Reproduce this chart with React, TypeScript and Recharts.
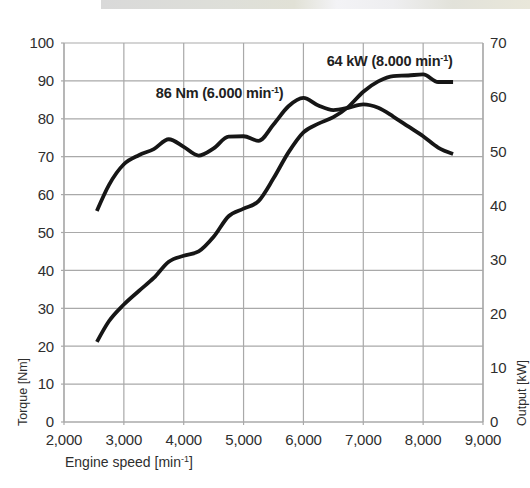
import React from "react";
import {
  LineChart,
  Line,
  XAxis,
  YAxis,
  CartesianGrid,
  ReferenceDot,
} from "recharts";

// engine speed samples (min^-1)
const rpm = [
  2550, 2750, 3000, 3250, 3500, 3750, 4000, 4250, 4500, 4750, 5000, 5250, 5500,
  5750, 6000, 6250, 6500, 6750, 7000, 7250, 7500, 7750, 8000, 8250, 8500,
];
// torque in Nm
const torqueNm = [
  55.7, 62.5, 68.0, 70.4, 72.0, 74.6, 72.6, 70.3, 72.2, 75.3, 75.4, 74.2, 78.5,
  83.3, 85.5, 83.5, 82.3, 82.9, 83.8, 82.9, 80.6, 78.0, 75.4, 72.4, 70.7,
];
// output in kW
const outputKw = [
  14.8, 18.6, 21.7, 24.2, 26.6, 29.6, 30.7, 31.5, 34.2, 38.0, 39.4, 40.8, 45.0,
  49.8, 53.5, 55.1, 56.3, 58.2, 61.0, 62.9, 63.9, 64.0, 64.2, 62.8, 62.8,
];

const speedTicks = [2000, 3000, 4000, 5000, 6000, 7000, 8000, 9000];
const torqueTicks = [0, 10, 20, 30, 40, 50, 60, 70, 80, 90, 100];
const outputTicks = [0, 10, 20, 30, 40, 50, 60, 70];

const data = rpm.map((r, i) => ({
  rpm: r,
  torque: torqueNm[i],
  output: outputKw[i],
}));

const FONT = "'Liberation Sans', Arial, Helvetica, sans-serif";
const GRID = "#a9a9a9";
const INK = "#161616";
const TEXT = "#2e2e2e";
const TICK = { fill: TEXT, fontSize: 15, fontFamily: FONT, letterSpacing: -0.2 };

function Annotation({ viewBox, text }: { viewBox?: any; text: string }) {
  if (!viewBox) return null;
  return (
    <text
      x={viewBox.x}
      y={viewBox.y}
      textAnchor="middle"
      fontFamily={FONT}
      fontWeight="bold"
      fontSize={14.5}
      letterSpacing={-0.2}
      fill="#222"
    >
      {text}
      <tspan fontSize={9} dy={-5}>
        -1
      </tspan>
      <tspan dy={5}>)</tspan>
    </text>
  );
}

export default function App() {
  return (
    <div
      style={{
        position: "absolute",
        left: 0,
        top: 0,
        width: 530,
        height: 488,
        background: "#fff",
      }}
    >
      <div
        style={{
          position: "absolute",
          left: 101,
          top: 0,
          width: 429,
          height: 9,
          background:
            "linear-gradient(to right, #d9d9d9 0%, #dedfd9 30%, #e1e1d6 45%, #f3f3f6 55%, #eeeef0 68%, #e2e2da 82%, #e9e7da 100%)",
        }}
      />
      <LineChart
        width={530}
        height={488}
        data={data}
        margin={{ top: 43, right: 0, bottom: 0, left: 0 }}
        style={{ position: "absolute", left: 0, top: 0 }}
      >
        <CartesianGrid stroke={GRID} strokeWidth={1.2} yAxisId="t" />
        <XAxis
          dataKey="rpm"
          type="number"
          domain={[2000, 9000]}
          ticks={speedTicks}
          height={66}
          tick={TICK}
          tickFormatter={(v: number) => v.toLocaleString("en-US")}
          axisLine={{ stroke: GRID, strokeWidth: 1.2 }}
          tickLine={{ stroke: GRID, strokeWidth: 1.2 }}
          tickSize={3}
          tickMargin={9}
          label={{
            content: () => (
              <text x={65} y={467} fontFamily={FONT} fontSize={14} fill={TEXT}>
                Engine speed [min
                <tspan fontSize={9} dy={-5}>
                  -1
                </tspan>
                <tspan dy={5}>]</tspan>
              </text>
            ),
          }}
        />
        <YAxis
          yAxisId="t"
          orientation="left"
          domain={[0, 100]}
          ticks={torqueTicks}
          width={64}
          tick={TICK}
          axisLine={{ stroke: GRID, strokeWidth: 1.2 }}
          tickLine={{ stroke: GRID, strokeWidth: 1.2 }}
          tickSize={3}
          tickMargin={7}
          label={{
            content: () => (
              <text
                x={27}
                y={426}
                transform="rotate(-90 27 426)"
                fontFamily={FONT}
                fontSize={12.5}
                fill={TEXT}
              >
                Torque [Nm]
              </text>
            ),
          }}
        />
        <YAxis
          yAxisId="p"
          orientation="right"
          domain={[0, 70]}
          ticks={outputTicks}
          width={47}
          tick={TICK}
          axisLine={{ stroke: GRID, strokeWidth: 1.2 }}
          tickLine={false}
          tickSize={0}
          tickMargin={7}
          label={{
            content: () => (
              <text
                x={526}
                y={426}
                transform="rotate(-90 526 426)"
                fontFamily={FONT}
                fontSize={12.5}
                fill={TEXT}
              >
                Output [kW]
              </text>
            ),
          }}
        />
        <Line
          yAxisId="t"
          type="monotone"
          dataKey="torque"
          stroke={INK}
          strokeWidth={3.8}
          dot={false}
          isAnimationActive={false}
        />
        <Line
          yAxisId="p"
          type="monotone"
          dataKey="output"
          stroke={INK}
          strokeWidth={3.8}
          dot={false}
          isAnimationActive={false}
        />
        <ReferenceDot
          yAxisId="t"
          x={4600}
          y={85.6}
          r={0}
          fill="none"
          stroke="none"
          label={(p: any) => <Annotation viewBox={p.viewBox} text="86 Nm (6.000 min" />}
        />
        <ReferenceDot
          yAxisId="t"
          x={7440}
          y={93.8}
          r={0}
          fill="none"
          stroke="none"
          label={(p: any) => <Annotation viewBox={p.viewBox} text="64 kW (8.000 min" />}
        />
      </LineChart>
    </div>
  );
}
